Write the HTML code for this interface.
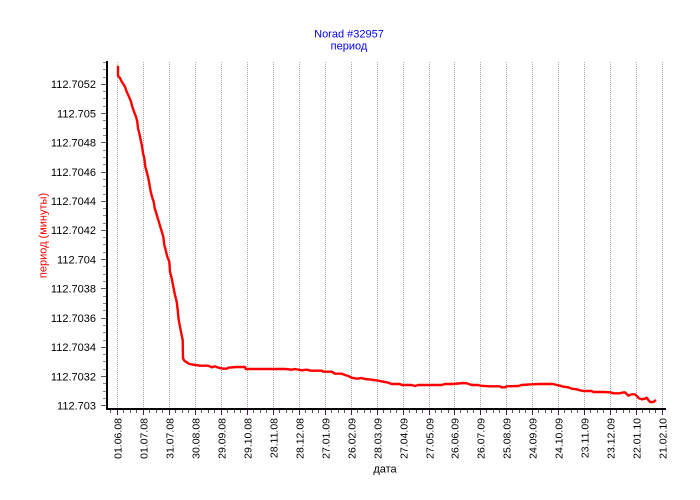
<!DOCTYPE html>
<html><head><meta charset="utf-8"><style>
html,body{margin:0;padding:0;background:#fff;}
svg{display:block;}
text{font-family:"Liberation Sans",Arial,sans-serif;}
</style></head><body>
<svg width="700" height="500" viewBox="0 0 700 500" xmlns="http://www.w3.org/2000/svg">
<rect width="700" height="500" fill="#fff"/>
<!-- title -->
<text x="349" y="37.3" font-size="11" fill="#0000ff" text-anchor="middle">Norad #32957</text>
<text x="349" y="49.5" font-size="11" fill="#0000ff" text-anchor="middle">период</text>
<!-- gridlines -->
<g stroke="#a8a8a8" stroke-width="1" stroke-dasharray="1,1" fill="none">
<path d="M117.5 62V408M143.5 62V408M169.5 62V408M195.5 62V408M221.5 62V408M247.5 62V408M273.5 62V408M299.5 62V408M325.5 62V408M351.5 62V408M377.5 62V408M403.5 62V408M429.5 62V408M454.5 62V408M480.5 62V408M506.5 62V408M532.5 62V408M558.5 62V408M584.5 62V408M610.5 62V408M636.5 62V408M662.5 62V408"/>
</g>
<!-- data -->
<polyline fill="none" stroke="#ff0000" stroke-width="2.4" stroke-linejoin="round" stroke-linecap="square" points="118,67 118,76 120,78 121.7,81.7 123.3,84 125,86.7 126.7,91.7 129,96.7 131,101.7 132.3,106.7 134,111.7 136,116.7 137.3,121.7 138,128.3 139.3,133.3 140.7,140 142,146 143,153.3 144.3,158.3 145.3,166.7 146.7,171.7 148.3,178.3 149.3,183.3 150.7,191.7 152,196.7 153.7,201.7 154.7,208.3 156.2,213 157.3,216.7 159.3,223.3 161.3,230 163.3,236.7 164.3,245 165.7,250 167.3,256.7 169.3,261.7 170,271.7 171.7,278.3 173.3,286.7 175,295 176.7,301.7 177.7,310 178.7,320 180,326.7 181.3,333.3 182.7,340 183,358.3 184.3,360.7 186.7,362.3 189.3,364 193.3,364.7 200,365.7 208.3,365.7 211.7,367.3 215,366.3 218.3,367.7 223.3,368.7 226.7,368.7 228.3,367.7 236.7,367 245,367 245.7,369 285,369 291.7,369.7 295,369 301.7,370.3 306.7,369.7 311,370.7 321.7,370.7 323.3,371.7 331.7,371.7 335,373.7 341.7,373.7 345,375 348.3,376 351.7,377.7 356.7,378.7 361.7,378 365,379 371.7,379.7 378.3,380.7 383.3,381.7 388.3,382.7 391.7,384 400,384 401.7,385 411.7,385 415,386 418.3,385 441.7,385 445,384 453.3,384 463.3,383 466.7,383.3 471.7,385 478.3,385 480,385.7 490,386.3 500,386.3 501.7,387.3 505,387.3 506.7,386.3 518.3,386 521.7,385 531.7,384.3 540,384 553.3,384 556.7,385 560,385.7 563.3,386.7 568.3,387.3 571.7,388.7 576.7,389.3 580,390.3 583.3,391 591.7,391 593.3,392 603.3,392 610,392.3 613.3,393.3 620,393.3 621.7,392.7 625,392.3 626.7,394 628.3,395.7 631.7,394.3 635,394.3 636.7,396 639,398.3 641.7,399.3 645,398.7 646.7,397.7 648.3,400 650,402 653.3,402 655,400.7"/>
<!-- axes -->
<rect x="106" y="61" width="2" height="349" fill="#000"/>
<rect x="106" y="408" width="560" height="2" fill="#000"/>
<!-- y ticks -->
<g stroke="#555" stroke-width="1">
<path d="M101 405.5H106M101 376.5H106M101 347.5H106M101 318.5H106M101 288.5H106M101 259.5H106M101 230.5H106M101 201.5H106M101 172.5H106M101 142.5H106M101 113.5H106M101 84.5H106"/>
</g>
<g stroke="#888" stroke-width="1">
<path d="M103 398.5H106M103 391.5H106M103 383.5H106M103 369.5H106M103 361.5H106M103 354.5H106M103 340.5H106M103 332.5H106M103 325.5H106M103 310.5H106M103 303.5H106M103 296.5H106M103 281.5H106M103 274.5H106M103 266.5H106M103 252.5H106M103 244.5H106M103 237.5H106M103 223.5H106M103 215.5H106M103 208.5H106M103 194.5H106M103 186.5H106M103 179.5H106M103 164.5H106M103 157.5H106M103 150.5H106M103 135.5H106M103 128.5H106M103 120.5H106M103 106.5H106M103 98.5H106M103 91.5H106M103 77.5H106M103 69.5H106M103 62.5H106"/>
</g>
<!-- y labels -->
<g font-size="11" fill="#000" text-anchor="end">
<text x="96" y="409.5">112.703</text>
<text x="96" y="380.3">112.7032</text>
<text x="96" y="351.1">112.7034</text>
<text x="96" y="321.9">112.7036</text>
<text x="96" y="292.7">112.7038</text>
<text x="96" y="263.5">112.704</text>
<text x="96" y="234.2">112.7042</text>
<text x="96" y="205">112.7044</text>
<text x="96" y="175.8">112.7046</text>
<text x="96" y="146.6">112.7048</text>
<text x="96" y="117.4">112.705</text>
<text x="96" y="88.2">112.7052</text>
</g>
<!-- x ticks -->
<g stroke="#402040" stroke-width="1">
<path d="M117.5 410V415M143.5 410V415M169.5 410V415M195.5 410V415M221.5 410V415M247.5 410V415M273.5 410V415M299.5 410V415M325.5 410V415M351.5 410V415M377.5 410V415M403.5 410V415M429.5 410V415M454.5 410V415M480.5 410V415M506.5 410V415M532.5 410V415M558.5 410V415M584.5 410V415M610.5 410V415M636.5 410V415M662.5 410V415"/>
</g>
<g stroke="#555" stroke-width="1">
<path d="M110.5 410V413M123.5 410V413M130.5 410V413M136.5 410V413M149.5 410V413M156.5 410V413M162.5 410V413M175.5 410V413M182.5 410V413M188.5 410V413M201.5 410V413M208.5 410V413M214.5 410V413M227.5 410V413M234.5 410V413M240.5 410V413M253.5 410V413M260.5 410V413M266.5 410V413M279.5 410V413M286.5 410V413M292.5 410V413M305.5 410V413M312.5 410V413M318.5 410V413M331.5 410V413M338.5 410V413M344.5 410V413M357.5 410V413M364.5 410V413M370.5 410V413M383.5 410V413M390.5 410V413M396.5 410V413M409.5 410V413M416.5 410V413M422.5 410V413M435.5 410V413M441.5 410V413M448.5 410V413M460.5 410V413M467.5 410V413M473.5 410V413M486.5 410V413M493.5 410V413M499.5 410V413M512.5 410V413M519.5 410V413M525.5 410V413M538.5 410V413M545.5 410V413M551.5 410V413M564.5 410V413M571.5 410V413M577.5 410V413M590.5 410V413M597.5 410V413M603.5 410V413M616.5 410V413M623.5 410V413M629.5 410V413M642.5 410V413M649.5 410V413M655.5 410V413"/>
</g>
<!-- x labels -->
<g font-size="10.5" fill="#000" text-anchor="end">
<text transform="translate(121.5,418) rotate(-90)">01.06.08</text>
<text transform="translate(147.5,418) rotate(-90)">01.07.08</text>
<text transform="translate(173.5,418) rotate(-90)">31.07.08</text>
<text transform="translate(199.5,418) rotate(-90)">30.08.08</text>
<text transform="translate(225.5,418) rotate(-90)">29.09.08</text>
<text transform="translate(251.5,418) rotate(-90)">29.10.08</text>
<text transform="translate(277.5,418) rotate(-90)">28.11.08</text>
<text transform="translate(303.5,418) rotate(-90)">28.12.08</text>
<text transform="translate(329.5,418) rotate(-90)">27.01.09</text>
<text transform="translate(355.5,418) rotate(-90)">26.02.09</text>
<text transform="translate(381.5,418) rotate(-90)">28.03.09</text>
<text transform="translate(407.5,418) rotate(-90)">27.04.09</text>
<text transform="translate(433.5,418) rotate(-90)">27.05.09</text>
<text transform="translate(458.5,418) rotate(-90)">26.06.09</text>
<text transform="translate(484.5,418) rotate(-90)">26.07.09</text>
<text transform="translate(510.5,418) rotate(-90)">25.08.09</text>
<text transform="translate(536.5,418) rotate(-90)">24.09.09</text>
<text transform="translate(562.5,418) rotate(-90)">24.10.09</text>
<text transform="translate(588.5,418) rotate(-90)">23.11.09</text>
<text transform="translate(614.5,418) rotate(-90)">23.12.09</text>
<text transform="translate(640.5,418) rotate(-90)">22.01.10</text>
<text transform="translate(666.5,418) rotate(-90)">21.02.10</text>
</g>
<!-- axis titles -->
<text x="385" y="472.7" font-size="11" fill="#000" text-anchor="middle">дата</text>
<text transform="translate(46.7,235.5) rotate(-90)" font-size="11" fill="#ff0000" text-anchor="middle">период (минуты)</text>
</svg>
</body></html>
